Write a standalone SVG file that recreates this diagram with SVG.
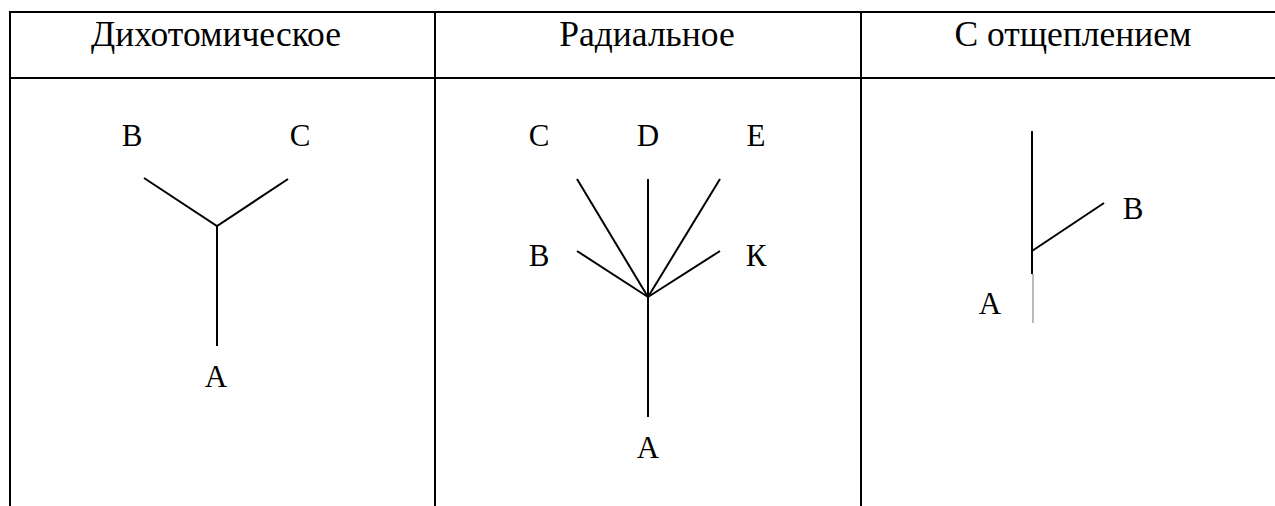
<svg xmlns="http://www.w3.org/2000/svg" width="1275" height="506" viewBox="0 0 1275 506">
  <style>
    .grid { stroke: #000; stroke-width: 2; fill: none; }
    .edge { stroke: #000; stroke-width: 2; fill: none; stroke-linecap: butt; }
    .thin { stroke: #777; stroke-width: 1; fill: none; }
    .head { font-family: "Liberation Serif", "Times New Roman", serif; font-size: 35.5px; fill: #000; text-anchor: middle; }
    .lbl { font-family: "Liberation Serif", "Times New Roman", serif; font-size: 31px; fill: #000; text-anchor: middle; }
  </style>
  <rect width="1275" height="506" fill="#fff"/>

  <!-- table frame -->
  <g id="table" class="grid">
    <line x1="9" y1="12" x2="1275" y2="12"/>
    <line x1="9" y1="78" x2="1275" y2="78"/>
    <line x1="10" y1="11" x2="10" y2="506"/>
    <line x1="435" y1="11" x2="435" y2="506"/>
    <line x1="861" y1="11" x2="861" y2="506"/>
  </g>

  <!-- column headings -->
  <g id="headings">
    <text class="head" x="216" y="46">Дихотомическое</text>
    <text class="head" x="647" y="46">Радиальное</text>
    <text class="head" x="1073" y="46">С отщеплением</text>
  </g>

  <!-- branch lines -->
  <g id="connectors">
    <!-- dichotomous -->
    <polyline class="edge" points="144,178 217,226 288,179"/>
    <line class="edge" x1="217" y1="225" x2="217" y2="346"/>
    <!-- radial -->
    <line class="edge" x1="577" y1="179" x2="648" y2="297"/>
    <line class="edge" x1="648" y1="179" x2="648" y2="417"/>
    <line class="edge" x1="720" y1="179" x2="648" y2="297"/>
    <line class="edge" x1="577" y1="251" x2="648" y2="297"/>
    <line class="edge" x1="720" y1="251" x2="648" y2="297"/>
    <!-- split-off -->
    <line class="edge" x1="1032" y1="131" x2="1032" y2="274"/>
    <line class="thin" x1="1033" y1="274" x2="1033" y2="323"/>
    <line class="edge" x1="1032" y1="251" x2="1104" y2="203"/>
  </g>

  <!-- node labels -->
  <g id="node-d-B"><text class="lbl" x="132" y="146">B</text></g>
  <g id="node-d-C"><text class="lbl" x="300" y="146">C</text></g>
  <g id="node-d-A"><text class="lbl" x="216" y="387">A</text></g>

  <g id="node-r-C"><text class="lbl" x="539" y="146">C</text></g>
  <g id="node-r-D"><text class="lbl" x="648" y="146">D</text></g>
  <g id="node-r-E"><text class="lbl" x="756" y="146">E</text></g>
  <g id="node-r-B"><text class="lbl" x="539" y="266">B</text></g>
  <g id="node-r-K"><text class="lbl" x="756" y="266">К</text></g>
  <g id="node-r-A"><text class="lbl" x="648" y="458">A</text></g>

  <g id="node-s-B"><text class="lbl" x="1133" y="219">B</text></g>
  <g id="node-s-A"><text class="lbl" x="990" y="314">A</text></g>
</svg>
